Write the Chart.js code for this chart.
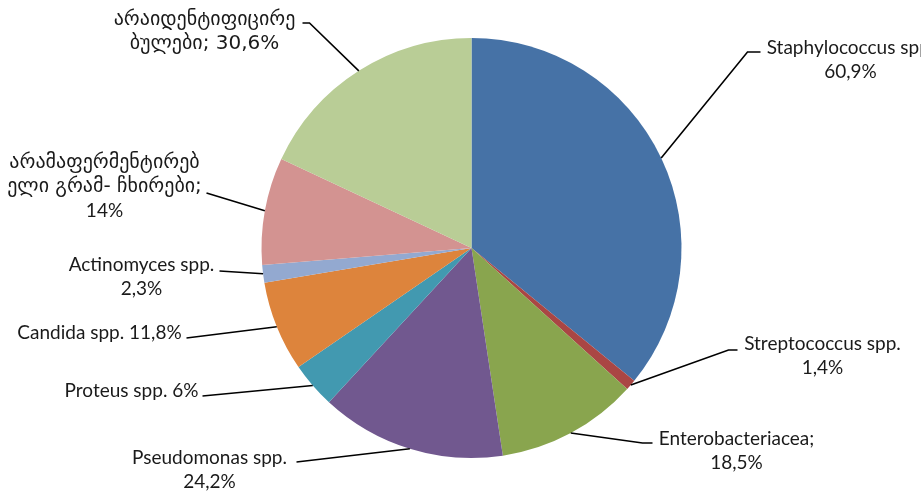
<!DOCTYPE html>
<html>
<head>
<meta charset="utf-8">
<script src="https://cdn.jsdelivr.net/npm/chart.js@4.4.1/dist/chart.umd.min.js"></script>
<style>
  html, body { margin: 0; padding: 0; background: #fff; }
  #wrap { width: 921px; height: 495px; position: relative; }
</style>
</head>
<body>
<div id="wrap"><canvas id="pie"></canvas></div>
<script>
// values as printed on the chart (they do not add up to 100)
const categories = [
  'Staphylococcus spp.',
  'Streptococcus spp.',
  'Enterobacteriacea;',
  'Pseudomonas spp.',
  'Proteus spp.',
  'Candida spp.',
  'Actinomyces spp.',
  'არამაფერმენტირებელი გრამ- ჩხირები;',
  'არაიდენტიფიცირებულები;'
];
const values = [60.9, 1.4, 18.5, 24.2, 6, 11.8, 2.3, 14, 30.6];
const valueLabels = ['60,9%', '1,4%', '18,5%', '24,2%', '6%', '11,8%', '2,3%', '14%', '30,6%'];

const colors = ['#4672A6', '#AA4644', '#89A54E', '#71588F', '#4299B0',
                '#DD843C', '#93A9D0', '#D39391', '#B9CD96'];

// how each label is broken into lines
const labelLines = [
  ['Staphylococcus spp.', '60,9%'],
  ['Streptococcus spp.', '1,4%'],
  ['Enterobacteriacea;', '18,5%'],
  ['Pseudomonas spp.', '24,2%'],
  ['Proteus spp. 6%'],
  ['Candida spp. 11,8%'],
  ['Actinomyces spp.', '2,3%'],
  ['არამაფერმენტირებ', 'ელი გრამ- ჩხირები;', '14%'],
  ['არაიდენტიფიცირე', 'ბულები; 30,6%']
];

// label placement relative to pie centre: elbow of leader, hook length, first text line centre
const labelLayout = [
  { ex: 276, ey: -196, hook: 13, tx: 379, ty: -200 },
  { ex: 257, ey: 102, hook: 9, tx: 351, ty: 96 },
  { ex: 171, ey: 195, hook: 10, tx: 265, ty: 191 },
  { ex: -175, ey: 214, hook: 0, tx: -262, ty: 210 },
  { ex: -269, ey: 148, hook: 0, tx: -340, ty: 143 },
  { ex: -285, ey: 90, hook: 0, tx: -372, ty: 85 },
  { ex: -252, ey: 23, hook: 0, tx: -330, ty: 17 },
  { ex: -265, ey: -55, hook: 0, tx: -367, ty: -85 },
  { ex: -162, ey: -225, hook: -7, tx: -267, ty: -228 }
];

const FONT = '19px Lato, "DejaVu Sans", sans-serif';
const FONT_KA = '20px "DejaVu Sans", sans-serif';
const LINE_H = 24;
const isGeorgian = s => /[\u10A0-\u10FF]/.test(s);

const leaderLabels = {
  id: 'leaderLabels',
  afterDatasetsDraw(chart) {
    const ctx = chart.ctx;
    const arcs = chart.getDatasetMeta(0).data;
    ctx.save();
    arcs.forEach((arc, i) => {
      const p = arc.getProps(['x', 'y', 'startAngle', 'endAngle', 'outerRadius'], true);
      const mid = (p.startAngle + p.endAngle) / 2;
      const ax = p.x + Math.cos(mid) * p.outerRadius;
      const ay = p.y + Math.sin(mid) * p.outerRadius;
      const lay = labelLayout[i];
      const ex = p.x + lay.ex, ey = p.y + lay.ey;

      ctx.strokeStyle = '#000';
      ctx.lineWidth = 1.6;
      ctx.beginPath();
      ctx.moveTo(ax, ay);
      ctx.lineTo(ex, ey);
      if (lay.hook) ctx.lineTo(ex + lay.hook, ey);
      ctx.stroke();

      ctx.fillStyle = '#1a1a1a';
      ctx.textAlign = 'center';
      ctx.textBaseline = 'middle';
      labelLines[i].forEach((line, k) => {
        ctx.font = isGeorgian(line) ? FONT_KA : FONT;
        ctx.fillText(line, p.x + lay.tx, p.y + lay.ty + k * LINE_H);
      });
    });
    ctx.restore();
  }
};

new Chart(document.getElementById('pie'), {
  type: 'pie',
  data: {
    labels: categories,
    datasets: [{
      data: values,
      backgroundColor: colors,
      borderWidth: 0
    }]
  },
  options: {
    responsive: true,
    maintainAspectRatio: false,
    animation: false,
    layout: { padding: { left: 22, right: 0, top: 38, bottom: 37 } },
    plugins: {
      legend: { display: false },
      tooltip: { enabled: false }
    }
  },
  plugins: [leaderLabels]
});
</script>
</body>
</html>
